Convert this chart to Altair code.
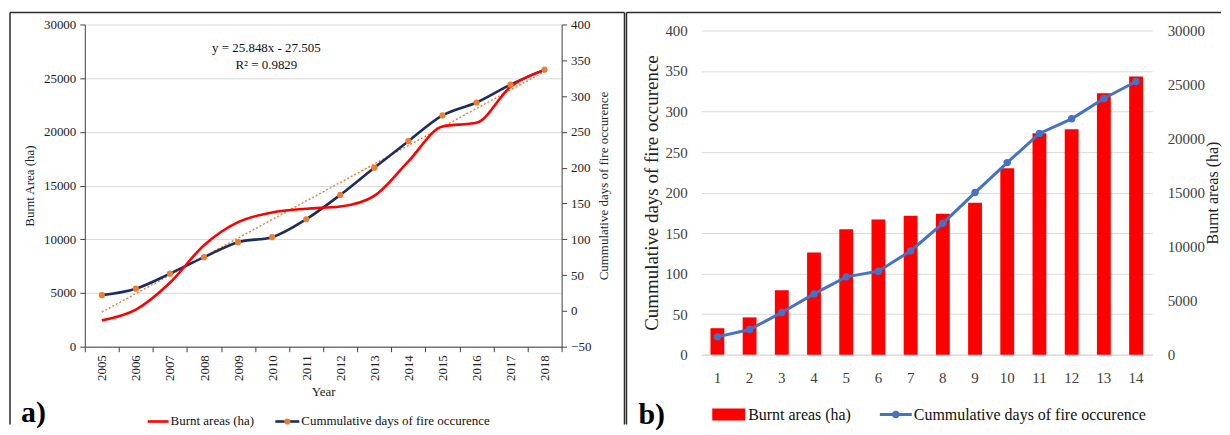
import altair as alt
import pandas as pd

FONT = "Liberation Serif"

# ---------------- data ----------------
years = ["2005", "2006", "2007", "2008", "2009", "2010", "2011",
         "2012", "2013", "2014", "2015", "2016", "2017", "2018"]
index_labels = [1, 2, 3, 4, 5, 6, 7, 8, 9, 10, 11, 12, 13, 14]
burnt_ha = [2450, 3450, 5950, 9450, 11600, 12500, 12850,
            13050, 14050, 17250, 20500, 20850, 24200, 25750]
cum_days = [22, 31, 52, 75, 96, 103, 128, 162, 200, 237, 273, 291, 316, 337]
trend_years = ["2005", "2018"]
trend_days = [-1.7, 334.4]          # y = 25.848x - 27.505 at x=1 and x=14
burnt_ticks = [0, 5000, 10000, 15000, 20000, 25000, 30000]
days_ticks_a = [-50, 0, 50, 100, 150, 200, 250, 300, 350, 400]
days_ticks_b = [0, 50, 100, 150, 200, 250, 300, 350, 400]
equation_lines = ["y = 25.848x - 27.505", "R² = 0.9829"]

# ---------------- sizes ----------------
WA, HA = 478, 323
WB, HB = 452, 325
OFF_B = 6                      # panel b plot starts 6px lower than panel a
FRAME = "#2b2b2b"

dfa = pd.DataFrame({"Year": years, "Burnt": burnt_ha, "Days": cum_days})
dfb = pd.DataFrame({"Idx": index_labels, "Burnt": burnt_ha, "Days": cum_days})
dft = pd.DataFrame({"Year": trend_years, "Trend": trend_days})
one_row = pd.DataFrame({"k": [0]})


def hrule(x1, x2, y, color=FRAME, width=1.5):
    return alt.Chart(one_row).mark_rule(color=color, strokeWidth=width).encode(
        x=alt.value(x1), x2=alt.value(x2), y=alt.value(y))


def vrule(x, y1, y2, color=FRAME, width=1.5):
    return alt.Chart(one_row).mark_rule(color=color, strokeWidth=width).encode(
        x=alt.value(x), y=alt.value(y1), y2=alt.value(y2))


def label(txt, x, y, size, weight="normal", align="left", baseline="middle", color="#111111"):
    return alt.Chart(pd.DataFrame({"t": [txt]})).mark_text(
        font=FONT, fontSize=size, fontWeight=weight, align=align,
        baseline=baseline, color=color).encode(
        x=alt.value(x), y=alt.value(y), text="t:N")


def dot(x, y, color, size):
    return alt.Chart(one_row).mark_point(
        filled=True, opacity=1, color=color, size=size, shape="circle").encode(
        x=alt.value(x), y=alt.value(y))


def box(x1, x2, y1, y2, color):
    return alt.Chart(one_row).mark_rect(color=color).encode(
        x=alt.value(x1), x2=alt.value(x2), y=alt.value(y1), y2=alt.value(y2))


def axis(**kw):
    base = dict(labelFont=FONT, titleFont=FONT, titleFontWeight="normal")
    base.update(kw)
    return alt.Axis(**base)


# ======================= panel a =======================
axis_col = "#404040"
txt_col = "#222222"
xa_axis = axis(title="Year", labelAngle=-90, tickBand="extent", grid=False,
               domainColor=axis_col, tickColor=axis_col, tickSize=5,
               labelFontSize=13, labelColor=txt_col, labelPadding=3,
               titleFontSize=13, titleColor=txt_col, titleY=45, titleBaseline="middle")
xa_scale = alt.Scale(type="band", paddingInner=0, paddingOuter=0)
xa = alt.X("Year:O", scale=xa_scale, axis=xa_axis, bandPosition=0.5)

ya_left = axis(title="Burnt Area (ha)", values=burnt_ticks, format="d", grid=True,
               gridColor="#d9d9d9", domainColor=axis_col, tickColor=axis_col,
               tickSize=5, labelFontSize=13, labelColor=txt_col, labelPadding=4,
               titleFontSize=13, titleColor=txt_col, titleAngle=270, titleX=-55,
               titleY=HA / 2, titleAlign="center", titleBaseline="middle")
ya_right = axis(title="Cummulative days of fire occurence", orient="right",
                values=days_ticks_a, format="d", grid=False, domainColor=axis_col,
                tickColor=axis_col, tickSize=5, labelFontSize=13,
                labelColor=txt_col, labelPadding=4, titleFontSize=13,
                titleColor=txt_col, titleAngle=270, titleX=42, titleY=HA / 2,
                titleAlign="center", titleBaseline="middle")
days_scale_a = alt.Scale(domain=[-50, 400], nice=False, zero=False)

trend = alt.Chart(dft).mark_line(color="#ed7d31", strokeWidth=1.4, strokeDash=[2, 2]).encode(
    x=xa, y=alt.Y("Trend:Q", scale=days_scale_a, axis=ya_right))
navy = alt.Chart(dfa).mark_line(color="#1b2d5e", strokeWidth=2.6, interpolate="monotone").encode(
    x=xa, y=alt.Y("Days:Q", scale=days_scale_a, axis=ya_right))
red = alt.Chart(dfa).mark_line(color="#ff0000", strokeWidth=2.6, interpolate="monotone").encode(
    x=xa, y=alt.Y("Burnt:Q", scale=alt.Scale(domain=[0, 30000], nice=False), axis=ya_left))
pts_a = alt.Chart(dfa).mark_point(filled=True, opacity=1, color="#ed7d31", size=38, shape="circle").encode(
    x=xa, y=alt.Y("Days:Q", scale=days_scale_a, axis=None))

panel_a = alt.layer(
    alt.layer(trend, navy),
    red,
    pts_a,
    label(equation_lines[0], 182, 24, 13, align="center"),
    label(equation_lines[1], 182, 41, 13, align="center"),
    # legend
    hrule(63, 84, 398, color="#ff0000", width=2.6),
    label("Burnt areas (ha)", 86, 398, 13),
    hrule(191, 215, 398, color="#1b2d5e", width=2.6),
    dot(203, 398, "#ed7d31", 38),
    label("Cummulative days of fire occurence", 217, 398, 13),
    label("a)", -64, 399, 30, weight="bold", baseline="alphabetic", color="#000000"),
    # frame
    hrule(-75, 541, -12),
    vrule(-75, -12, 401),
    vrule(541, -12, 401),
).resolve_scale(y="independent").properties(width=WA, height=HA)

# ======================= panel b =======================
lab_col = "#404040"
HBG = HB + OFF_B
xb_axis = axis(title=None, labelAngle=0, grid=False, ticks=False,
               domainColor="#d9d9d9", labelFontSize=15, labelColor=lab_col,
               labelPadding=16)
xb_scale = alt.Scale(type="band", paddingInner=0.57, paddingOuter=0.285)

yb_left = axis(title="Cummulative days of fire occurence", orient="left",
               values=days_ticks_b, format="d", grid=True, gridColor="#d9d9d9",
               domain=False, ticks=False, labelFontSize=15, labelColor=lab_col,
               labelPadding=14, titleFontSize=19, titleColor=txt_col,
               titleAngle=270, titleX=-50, titleY=OFF_B + HB / 2,
               titleAlign="center", titleBaseline="middle")
yb_right = axis(title="Burnt areas (ha)", orient="right", values=burnt_ticks,
                format="d", grid=False, domain=False, ticks=False, labelFontSize=15,
                labelColor=lab_col, labelPadding=15, titleFontSize=16,
                titleColor=txt_col, titleAngle=270, titleX=60,
                titleY=OFF_B + HB / 2, titleAlign="center", titleBaseline="middle")
days_scale_b = alt.Scale(domain=[0, 400], nice=False, range=[HBG, OFF_B])
burnt_scale_b = alt.Scale(domain=[0, 30000], nice=False, range=[HBG, OFF_B])

bars = alt.Chart(dfb).mark_bar(color="#ff0000").encode(
    x=alt.X("Idx:O", scale=xb_scale, axis=xb_axis),
    y=alt.Y("Burnt:Q", scale=burnt_scale_b, axis=yb_right))
line_b = alt.Chart(dfb).mark_line(color="#4472c4", strokeWidth=3).encode(
    x=alt.X("Idx:O", scale=xb_scale, axis=xb_axis, bandPosition=0.5),
    y=alt.Y("Days:Q", scale=days_scale_b, axis=yb_left))
pts_b = alt.Chart(dfb).mark_point(filled=True, opacity=1, color="#4472c4", size=55, shape="circle").encode(
    x=alt.X("Idx:O", scale=xb_scale, axis=xb_axis, bandPosition=0.5),
    y=alt.Y("Days:Q", scale=days_scale_b, axis=yb_left))

panel_b = alt.layer(
    bars,
    alt.layer(line_b, pts_b),
    # legend
    box(11, 44, 385, 397, "#ff0000"),
    label("Burnt areas (ha)", 47, 391, 16),
    hrule(179, 211, 391, color="#4472c4", width=3),
    dot(195, 391, "#4472c4", 55),
    label("Cummulative days of fire occurence", 213, 391, 16),
    label("b)", -63, 401, 30, weight="bold", baseline="alphabetic", color="#000000"),
    # frame
    hrule(-75, 521, -12),
    vrule(-75, -12, 401),
).resolve_scale(y="independent").properties(width=WB, height=HBG)

chart = alt.hconcat(panel_a, panel_b, spacing=0).properties(
    padding={"left": 1, "top": 3, "right": 0, "bottom": 0}
).configure_axis(labelFont=FONT, titleFont=FONT).configure_text(font=FONT).configure_view(strokeWidth=0)

chart.save("out.html", embed_options={"renderer": "svg", "actions": False})
